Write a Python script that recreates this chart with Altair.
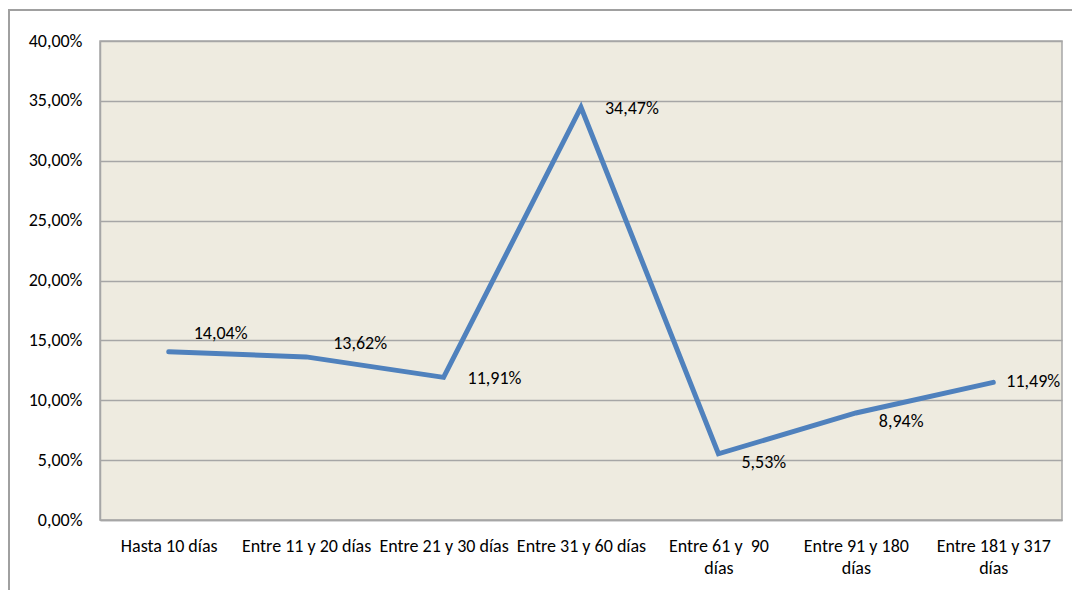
import altair as alt
import pandas as pd

categories = ["Hasta 10 días", "Entre 11 y 20 días", "Entre 21 y 30 días",
              "Entre 31 y 60 días", "Entre 61 y  90 días", "Entre 91 y 180 días",
              "Entre 181 y 317 días"]
values = [0.1404, 0.1362, 0.1191, 0.3447, 0.0553, 0.0894, 0.1149]
labels = ["14,04%", "13,62%", "11,91%", "34,47%", "5,53%", "8,94%", "11,49%"]

df = pd.DataFrame({"cat": categories, "val": values, "lab": labels,
                   "idx": list(range(len(categories)))})

FONT = "Carlito, Liberation Sans Narrow, Roboto, sans-serif"
FS = 18

x = alt.X("cat:N", sort=categories, title=None,
          scale=alt.Scale(padding=0.5),
          axis=alt.Axis(labelAngle=0, labelFont=FONT, labelFontSize=FS,
                        labelColor="#000000", labelPadding=17, ticks=False,
                        domain=True, domainColor="#A6A6A6", domainWidth=1.5,
                        labelLimit=300, labelOverlap=False,
                        labelExpr="indexof(datum.label, '61') >= 0 ? ['Entre 61 y \u00a090', 'días'] : indexof(datum.label, '91') >= 0 ? ['Entre 91 y 180', 'días'] : indexof(datum.label, '181') >= 0 ? ['Entre 181 y 317', 'días'] : datum.label",
                        labelLineHeight=22))
y = alt.Y("val:Q", title=None,
          scale=alt.Scale(domain=[0, 0.4], nice=False),
          axis=alt.Axis(values=[0, 0.05, 0.1, 0.15, 0.2, 0.25, 0.3, 0.35, 0.4],
                        labelExpr="replace(format(datum.value, '.2%'), '.', ',')",
                        labelFont=FONT, labelFontSize=FS, labelColor="#000000",
                        labelPadding=18, ticks=False, domain=True,
                        domainColor="#A6A6A6", domainWidth=1.5,
                        grid=True, gridColor="#A6A6A6", gridWidth=1.5))

base = alt.Chart(df)

frame = base.mark_rect(fill="transparent", stroke="#A0A0A0", strokeWidth=1.5,
                       clip=False).encode(
    x=alt.value(-91), x2=alt.value(978), y=alt.value(-31), y2=alt.value(620))

line = base.mark_line(color="#4F81BD", strokeWidth=5, strokeCap="round",
                      strokeJoin="miter").encode(x=x, y=y)

def lab(idxs, dx, dy):
    return base.transform_filter(
        alt.FieldOneOfPredicate(field="idx", oneOf=idxs)
    ).mark_text(align="left", baseline="middle", dx=dx, dy=dy, font=FONT,
                fontSize=FS, color="#000000").encode(
        x=alt.X("cat:N", sort=categories, scale=alt.Scale(padding=0.5)),
        y="val:Q", text="lab:N")

texts = [lab([0], 25, -18), lab([1], 27, -13), lab([2, 3], 24, 2),
         lab([4, 5], 23, 9), lab([6], 13, 0)]

chart = alt.layer(frame, line, *texts).properties(
    width=962, height=479,
    padding={"left": 92, "top": 33, "right": 10, "bottom": 70},
    autosize=alt.AutoSizeParams(type="none"),
    background="#FFFFFF",
).configure_view(fill="#EEEBE0", stroke="#A6A6A6", strokeWidth=1.5)

chart.save("out.html", embed_options={"renderer": "svg", "actions": False})
